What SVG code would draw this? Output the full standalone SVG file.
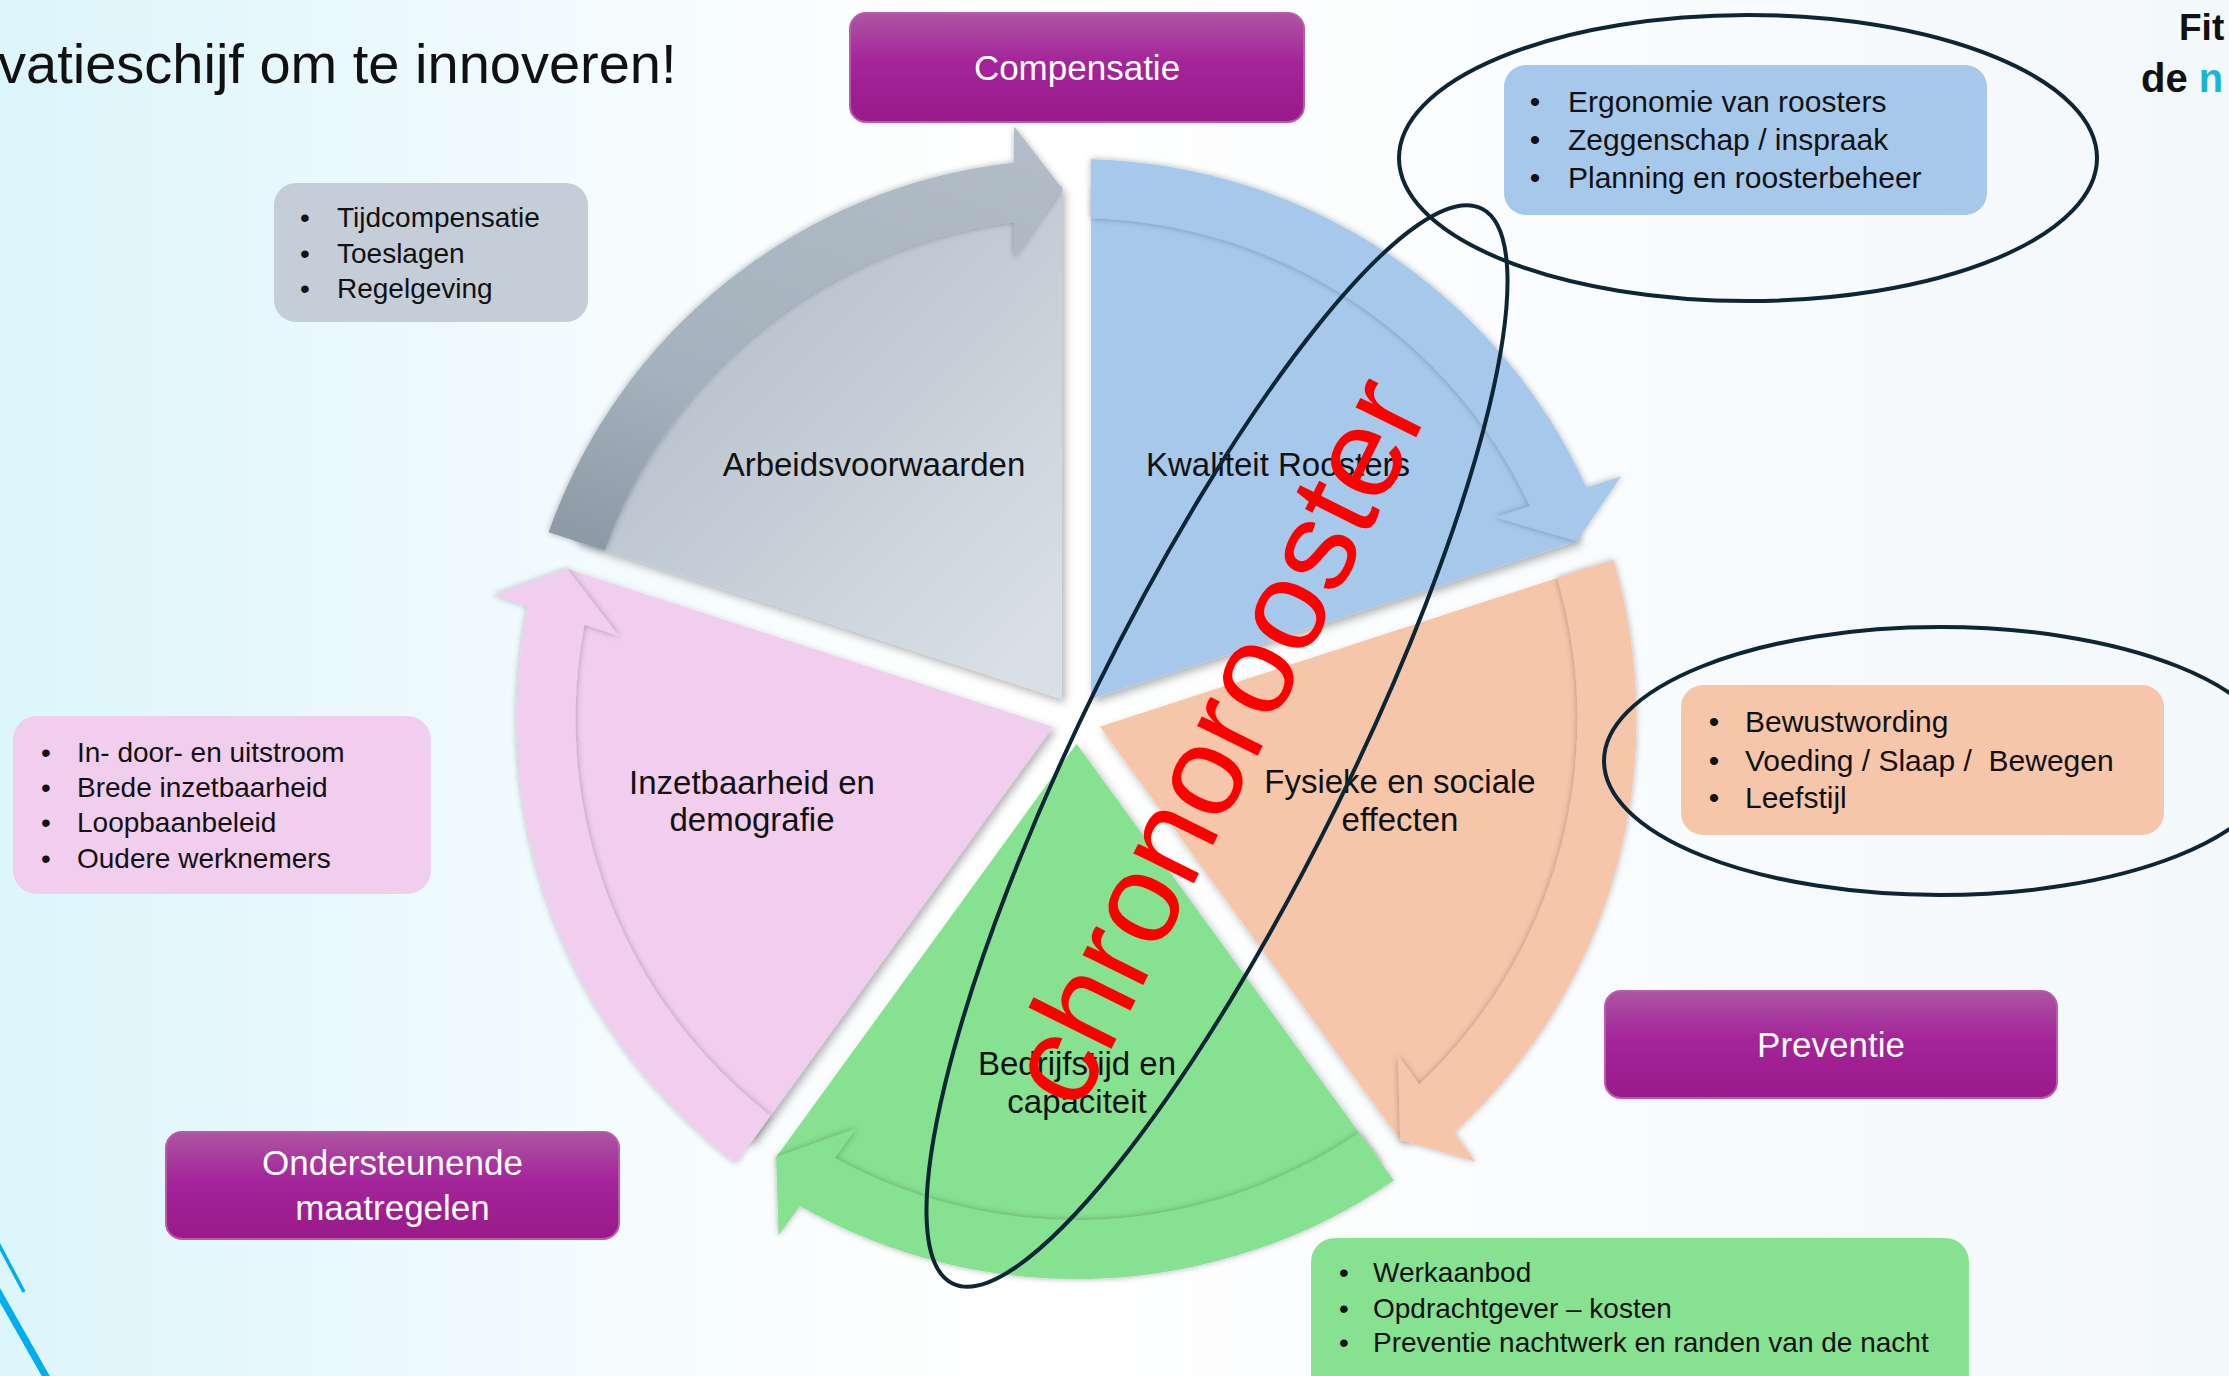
<svg xmlns="http://www.w3.org/2000/svg" width="2229" height="1376" viewBox="0 0 2229 1376">
<defs>
<linearGradient id="bg" x1="0" y1="0" x2="1" y2="0">
<stop offset="0" stop-color="#dcf5fb"/>
<stop offset="0.3" stop-color="#f6fcfe"/>
<stop offset="0.45" stop-color="#ffffff"/>
<stop offset="1" stop-color="#f3f8fb"/>
</linearGradient>
<linearGradient id="purple" x1="0" y1="0" x2="0" y2="1">
<stop offset="0" stop-color="#ad55a3"/>
<stop offset="0.45" stop-color="#a4249a"/>
<stop offset="1" stop-color="#9a1a8a"/>
</linearGradient>
<linearGradient id="grayPie" gradientUnits="userSpaceOnUse" x1="396" y1="-567" x2="124" y2="-33">
<stop offset="0" stop-color="#aebac6"/>
<stop offset="1" stop-color="#d8dfe6"/>
</linearGradient>
<linearGradient id="grayBand" x1="0" y1="0" x2="1" y2="0">
<stop offset="0" stop-color="#8d99a5"/>
<stop offset="0.35" stop-color="#a5b1bc"/>
<stop offset="1" stop-color="#b2bdc8"/>
</linearGradient>
<filter id="sh" x="-10%" y="-10%" width="125%" height="125%">
<feDropShadow dx="3" dy="4" stdDeviation="4" flood-color="#000" flood-opacity="0.3"/>
</filter>
<filter id="bsh" x="-10%" y="-10%" width="120%" height="120%">
<feDropShadow dx="0" dy="0" stdDeviation="3" flood-color="#000" flood-opacity="0.3"/>
</filter>
<path id="pie" d="M14.5,-20 L14.5,-532.8 A533,533 0 0 1 502.2,-178.4 Z"/>
<path id="band" d="M14.5,-559.8 A560,560 0 0 1 510.0,-231.4 L544.4,-242.5 L500.4,-177.8 L419.0,-201.8 L453.5,-213.0 A501,501 0 0 0 14.5,-500.8 Z"/>
<style>
text{font-family:"Liberation Sans",Arial,sans-serif;fill:#111;}
.lbl{font-size:33px;text-anchor:middle;}
.btn{font-size:35px;text-anchor:middle;fill:#fff;}
.box{stroke:#b85aad;stroke-width:2;fill:url(#purple);}
.it28{font-size:28px;}
.it30{font-size:30px;}
.bul{text-anchor:middle;}
.ell{fill:none;stroke:#0c2635;stroke-width:4;}
</style>
</defs>
<rect x="0" y="0" width="2229" height="1376" fill="url(#bg)"/>
<line x1="-2" y1="1243" x2="24" y2="1292" stroke="#00adef" stroke-width="3.5"/>
<line x1="-3" y1="1290" x2="48" y2="1380" stroke="#00adef" stroke-width="7"/>

<text x="-2" y="83" font-size="56">vatieschijf om te innoveren!</text>
<text x="2179" y="40" font-size="37" font-weight="bold">Fit</text>
<text x="2141" y="92" font-size="40" font-weight="bold">de <tspan fill="#19b5d6">n</tspan></text>

<g id="node-arbeidsvoorwaarden">
<g filter="url(#sh)"><use href="#pie" transform="translate(1076.5,719) rotate(288)" fill="url(#grayPie)"/></g>
<text class="lbl" x="874" y="476">Arbeidsvoorwaarden</text>
</g>
<g id="node-kwaliteit-roosters">
<g filter="url(#sh)"><use href="#pie" transform="translate(1076.5,719)" fill="#a6c8ea"/></g>
<text class="lbl" x="1278" y="476">Kwaliteit Roosters</text>
</g>
<g id="node-fysieke">
<g filter="url(#sh)"><use href="#pie" transform="translate(1076.5,719) rotate(72)" fill="#f6c6aa"/></g>
<text class="lbl" x="1400" y="793">Fysieke en sociale</text>
<text class="lbl" x="1400" y="831">effecten</text>
</g>
<g id="node-bedrijfstijd">
<g filter="url(#sh)"><use href="#pie" transform="translate(1076.5,719) rotate(144)" fill="#86e190"/></g>
</g>
<g id="node-inzetbaarheid">
<g filter="url(#sh)"><use href="#pie" transform="translate(1076.5,719) rotate(216)" fill="#f1cdee"/></g>
<text class="lbl" x="752" y="794">Inzetbaarheid en</text>
<text class="lbl" x="752" y="831">demografie</text>
</g>

<g id="connectors">
<g filter="url(#bsh)"><use href="#band" transform="translate(1076.5,719) rotate(288)" fill="url(#grayBand)"/></g>
<g filter="url(#bsh)"><use href="#band" transform="translate(1076.5,719)" fill="#a6c8ea"/></g>
<g filter="url(#bsh)"><use href="#band" transform="translate(1076.5,719) rotate(72)" fill="#f6c6aa"/></g>
<g filter="url(#bsh)"><use href="#band" transform="translate(1076.5,719) rotate(144)" fill="#86e190"/></g>
<g filter="url(#bsh)"><use href="#band" transform="translate(1076.5,719) rotate(216)" fill="#f1cdee"/></g>
</g>

<g id="node-bedrijfstijd-label">
<text class="lbl" x="1077" y="1075">Bedrijfstijd en</text>
<text class="lbl" x="1077" y="1113">capaciteit</text>
</g>

<g id="node-compensatie">
<rect class="box" x="850" y="13" width="454" height="109" rx="16"/>
<text class="btn" x="1077" y="80">Compensatie</text>
</g>
<g id="node-preventie">
<rect class="box" x="1605" y="991" width="452" height="107" rx="16"/>
<text class="btn" x="1831" y="1057">Preventie</text>
</g>
<g id="node-ondersteunende">
<rect class="box" x="166" y="1132" width="453" height="107" rx="16"/>
<text class="btn" x="392.5" y="1175">Ondersteunende</text>
<text class="btn" x="392.5" y="1220">maatregelen</text>
</g>

<g id="node-info-arbeid">
<rect x="274" y="183" width="314" height="139" rx="22" fill="#c5ced8"/>
<text class="it28 bul" x="305" y="227">•</text><text class="it28" x="337" y="227">Tijdcompensatie</text>
<text class="it28 bul" x="305" y="263">•</text><text class="it28" x="337" y="263">Toeslagen</text>
<text class="it28 bul" x="305" y="298">•</text><text class="it28" x="337" y="298">Regelgeving</text>
</g>
<g id="node-info-roosters">
<rect x="1504" y="65" width="483" height="150" rx="22" fill="#a6c8ea"/>
<text class="it30 bul" x="1535" y="112">•</text><text class="it30" x="1568" y="112">Ergonomie van roosters</text>
<text class="it30 bul" x="1535" y="150">•</text><text class="it30" x="1568" y="150">Zeggenschap / inspraak</text>
<text class="it30 bul" x="1535" y="188">•</text><text class="it30" x="1568" y="188">Planning en roosterbeheer</text>
</g>
<g id="node-info-fysiek">
<rect x="1681" y="685" width="483" height="150" rx="22" fill="#f6c6aa"/>
<text class="it30 bul" x="1714" y="732">•</text><text class="it30" x="1745" y="732">Bewustwording</text>
<text class="it30 bul" x="1714" y="771">•</text><text class="it30" x="1745" y="771" style="white-space:pre">Voeding / Slaap /  Bewegen</text>
<text class="it30 bul" x="1714" y="808">•</text><text class="it30" x="1745" y="808">Leefstijl</text>
</g>
<g id="node-info-inzet">
<rect x="13" y="716" width="418" height="178" rx="24" fill="#f1cdee"/>
<text class="it28 bul" x="46" y="762">•</text><text class="it28" x="77" y="762">In- door- en uitstroom</text>
<text class="it28 bul" x="46" y="797">•</text><text class="it28" x="77" y="797">Brede inzetbaarheid</text>
<text class="it28 bul" x="46" y="832">•</text><text class="it28" x="77" y="832">Loopbaanbeleid</text>
<text class="it28 bul" x="46" y="868">•</text><text class="it28" x="77" y="868">Oudere werknemers</text>
</g>
<g id="node-info-bedrijf">
<rect x="1311" y="1238" width="658" height="160" rx="24" fill="#86e190"/>
<text class="it28 bul" x="1344" y="1282">•</text><text class="it28" x="1373" y="1282">Werkaanbod</text>
<text class="it28 bul" x="1344" y="1318">•</text><text class="it28" x="1373" y="1318">Opdrachtgever – kosten</text>
<text class="it28 bul" x="1344" y="1352">•</text><text class="it28" x="1373" y="1352">Preventie nachtwerk en randen van de nacht</text>
</g>

<g id="node-chronorooster">
<text transform="translate(1079,1114) rotate(-63.5)" font-size="128" style="fill:#ff0000">chronorooster</text>
</g>

<g id="node-ellipses">
<ellipse class="ell" cx="1748" cy="158" rx="349" ry="143"/>
<ellipse class="ell" cx="1940" cy="761" rx="336" ry="134"/>
<ellipse class="ell" cx="0" cy="0" rx="599" ry="134" transform="translate(1217,746) rotate(-63.8)"/>
</g>
</svg>
